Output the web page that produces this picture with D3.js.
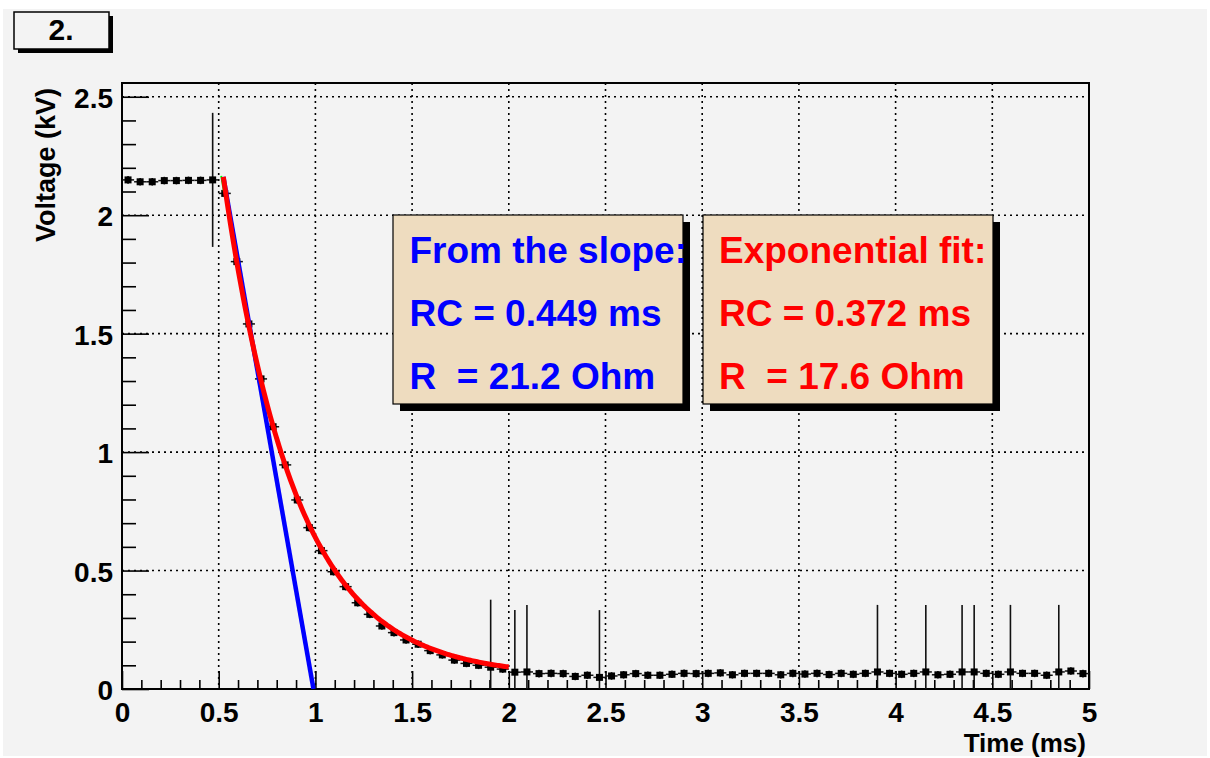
<!DOCTYPE html>
<html><head><meta charset="utf-8">
<script src="https://cdn.jsdelivr.net/npm/d3@7"></script>
<style>
body{margin:0;background:#fff;}
text{font-family:"Liberation Sans",Arial,Helvetica,sans-serif;font-weight:bold;}
</style>
</head><body>
<svg id="c" width="1210" height="758"></svg>
<script>
// ---------------- data ----------------
const nBins = 80, xMin = 0, xMax = 5;
const voltage = [
  2.149, 2.141, 2.141, 2.146, 2.146, 2.147, 2.147, 2.149,
  2.092, 1.804, 1.541, 1.309, 1.107, 0.946, 0.798, 0.681, 0.584, 0.495, 0.432, 0.364,
  0.315, 0.266, 0.238, 0.207, 0.189, 0.162, 0.144, 0.122, 0.108, 0.100, 0.092, 0.084,
  0.071, 0.072, 0.065, 0.066, 0.065, 0.053, 0.058, 0.049, 0.055, 0.060, 0.065, 0.058,
  0.058, 0.062, 0.066, 0.065, 0.066, 0.068,
  0.060, 0.066, 0.066, 0.066, 0.060, 0.066, 0.063, 0.066, 0.061, 0.066,
  0.062, 0.066, 0.072, 0.066, 0.062, 0.066, 0.072, 0.060, 0.062, 0.072,
  0.072, 0.066, 0.062, 0.072, 0.066, 0.066, 0.058, 0.072, 0.076, 0.065
];
const spikeBins = [7, 30, 32, 33, 39, 62, 66, 69, 70, 73, 77];
const spikeErr  = [0.283, 0.285, 0.262, 0.283, 0.284, 0.283, 0.283, 0.283, 0.283, 0.283, 0.283];
const baseErr = 0.016;

const xTicks = [0, 0.5, 1, 1.5, 2, 2.5, 3, 3.5, 4, 4.5, 5];
const xTickLabels = ["0", "0.5", "1", "1.5", "2", "2.5", "3", "3.5", "4", "4.5", "5"];
const yTicks = [0, 0.5, 1, 1.5, 2, 2.5];
const yTickLabels = ["0", "0.5", "1", "1.5", "2", "2.5"];

// exponential fit  V = base + amp*exp(-(t-t0)/tau)
const fitTau = 0.372, fitAmp = 2.109, fitBase = 0.053, fitT0 = 0.524, fitEnd = 2.0;
const slopeLine = [[0.524, 2.162], [0.99, 0]];
const greenLine = [[0.513, 2.166], [0.527, 2.10]];

const slopeText = ["From the slope:", "RC = 0.449 ms", "R  = 21.2 Ohm"];
const expText = ["Exponential fit:", "RC = 0.372 ms", "R  = 17.6 Ohm"];
const titleText = "2.";
const xTitle = "Time (ms)";
const yTitle = "Voltage (kV)";

// ---------------- layout ----------------
const L = 122, R = 1089, T = 83, B = 689;
const svg = d3.select("#c");
const x = d3.scaleLinear().domain([xMin, xMax]).range([L, R]);
const y = d3.scaleLinear().domain([0, 2.558]).range([B, T]);

const binW = (xMax - xMin) / nBins;
const pts = voltage.map((v, i) => {
  const si = spikeBins.indexOf(i);
  return {t: xMin + binW * (i + 0.5), v: v, e: si >= 0 ? spikeErr[si] : baseErr};
});

// canvas
svg.append("rect").attr("x", 3).attr("y", 9).attr("width", 1204).attr("height", 747).attr("fill", "#f3f3f3");

svg.append("defs").append("clipPath").attr("id", "clip")
  .append("rect").attr("x", L).attr("y", T).attr("width", R - L).attr("height", B - T);

// grid
const grid = svg.append("g").attr("stroke", "#000").attr("stroke-width", 1.6).attr("stroke-dasharray", "2,4");
grid.selectAll(".gx").data(xTicks.filter(d => d > xMin && d < xMax)).join("line")
  .attr("x1", d => x(d)).attr("x2", d => x(d)).attr("y1", T).attr("y2", B);
grid.selectAll(".gy").data(yTicks.filter(d => d > 0)).join("line")
  .attr("y1", d => y(d)).attr("y2", d => y(d)).attr("x1", L).attr("x2", R);

// axes
const xMinor = d3.range(0, 50).map(i => i / 10).filter(d => xTicks.indexOf(d) < 0);
const yMinor = d3.range(1, 26).map(i => i / 10).filter(d => yTicks.indexOf(d) < 0);

const gxMin = svg.append("g").attr("transform", `translate(0,${B})`)
  .call(d3.axisBottom(x).tickValues(xMinor).tickSize(-9).tickFormat(""));
const gx = svg.append("g").attr("transform", `translate(0,${B})`)
  .call(d3.axisBottom(x).tickValues(xTicks).tickSize(-18).tickFormat((d, i) => xTickLabels[i]));
gx.selectAll("text").attr("y", 33).attr("dy", 0).attr("font-size", 28).attr("fill", "#000")
  .style("font-family", '"Liberation Sans",Arial,sans-serif').style("font-weight", "bold");

const gyMin = svg.append("g").attr("transform", `translate(${L},0)`)
  .call(d3.axisLeft(y).tickValues(yMinor).tickSize(-14).tickFormat(""));
const gy = svg.append("g").attr("transform", `translate(${L},0)`)
  .call(d3.axisLeft(y).tickValues(yTicks).tickSize(-27).tickFormat((d, i) => yTickLabels[i]));
gy.selectAll("text").attr("x", -9).attr("dy", "0.38em").attr("font-size", 28).attr("fill", "#000")
  .style("font-family", '"Liberation Sans",Arial,sans-serif').style("font-weight", "bold");

[gxMin, gx, gyMin, gy].forEach(g => {
  g.select(".domain").remove();
  g.selectAll(".tick line").attr("stroke", "#000").attr("stroke-width", 1.6);
});

// frame
svg.append("rect").attr("x", L).attr("y", T).attr("width", R - L).attr("height", B - T)
  .attr("fill", "none").attr("stroke", "#000").attr("stroke-width", 2);

// data
const plot = svg.append("g").attr("clip-path", "url(#clip)");
plot.selectAll(".hb").data(pts).join("line")
  .attr("x1", d => x(d.t - binW / 2)).attr("x2", d => x(d.t + binW / 2))
  .attr("y1", d => y(d.v)).attr("y2", d => y(d.v))
  .attr("stroke", "#111").attr("stroke-width", 1.5);
plot.selectAll(".vb").data(pts).join("line")
  .attr("x1", d => x(d.t)).attr("x2", d => x(d.t))
  .attr("y1", d => y(d.v - d.e)).attr("y2", d => y(d.v + d.e))
  .attr("stroke", "#111").attr("stroke-width", 1.6);
plot.selectAll(".mk").data(pts).join("rect")
  .attr("x", d => x(d.t) - 3.5).attr("y", d => y(d.v) - 3.5)
  .attr("width", 7).attr("height", 7).attr("fill", "#000");

// functions
const line = d3.line().x(d => x(d[0])).y(d => y(d[1]));
plot.append("path").datum(greenLine).attr("d", line).attr("fill", "none")
  .attr("stroke", "#00ff00").attr("stroke-width", 2);
plot.append("path").datum(slopeLine).attr("d", line).attr("fill", "none")
  .attr("stroke", "#0000ff").attr("stroke-width", 4.5);
const fitPts = d3.range(0, 201).map(i => {
  const t = fitT0 + (fitEnd - fitT0) * i / 200;
  return [t, fitBase + fitAmp * Math.exp(-(t - fitT0) / fitTau)];
});
plot.append("path").datum(fitPts).attr("d", line).attr("fill", "none")
  .attr("stroke", "#ff0000").attr("stroke-width", 5).attr("stroke-linejoin", "round");

// text boxes
function pave(bx, by, bw, bh, lines, color, tx) {
  svg.append("rect").attr("x", bx + 7).attr("y", by + 7).attr("width", bw).attr("height", bh).attr("fill", "#000");
  svg.append("rect").attr("x", bx).attr("y", by).attr("width", bw).attr("height", bh)
    .attr("fill", "#eedcbf").attr("stroke", "#000").attr("stroke-width", 1.2);
  lines.forEach((s, i) => {
    svg.append("text").attr("x", tx).attr("y", 263 + 63 * i).attr("font-size", 37)
      .attr("fill", color).style("white-space", "pre").attr("xml:space", "preserve").text(s);
  });
}
pave(393, 215, 290, 189, slopeText, "#0000ff", 409.5);
pave(703, 215, 290, 189, expText, "#ff0000", 719);

// title box
svg.append("rect").attr("x", 18).attr("y", 16).attr("width", 95).attr("height", 37).attr("fill", "#000");
svg.append("rect").attr("x", 14).attr("y", 12).attr("width", 95).attr("height", 37)
  .attr("fill", "#f3f3f3").attr("stroke", "#000").attr("stroke-width", 1.5);
svg.append("text").attr("x", 61).attr("y", 40).attr("text-anchor", "middle").attr("font-size", 30).text(titleText);

// axis titles
svg.append("text").attr("x", 1086).attr("y", 752).attr("text-anchor", "end").attr("font-size", 26).text(xTitle);
svg.append("text").attr("transform", "translate(55,88) rotate(-90)").attr("text-anchor", "end")
  .attr("font-size", 27).text(yTitle);
</script>
</body></html>
